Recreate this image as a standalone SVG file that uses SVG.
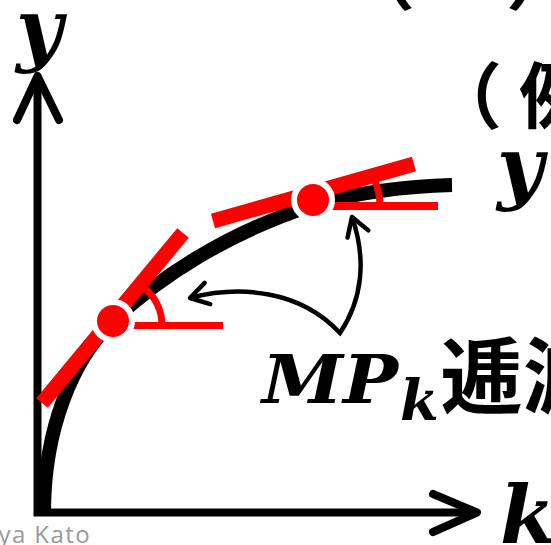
<svg xmlns="http://www.w3.org/2000/svg" width="551" height="545" viewBox="0 0 551 545">
<style>
.ax{fill:none;stroke:#000;stroke-width:8;stroke-linecap:round;stroke-linejoin:round}
.red{fill:none;stroke:#f00}
.math{font-family:"DejaVu Serif","Liberation Serif",serif;font-style:italic;font-weight:bold;fill:#000}
.jp{font-family:"Noto Sans CJK JP","Noto Sans CJK SC",sans-serif;font-weight:bold;fill:#000}
.dot{fill:#f00;stroke:#fff;stroke-width:6}
</style>
<defs>
<marker id="ah" markerUnits="userSpaceOnUse" viewBox="-25 -15 30 30" refX="0" refY="0" markerWidth="30" markerHeight="30" orient="auto-start-reverse" overflow="visible">
<path d="M-18,-11 L0,0 L-18,11" fill="none" stroke="#000" stroke-width="4.5" stroke-linecap="round" stroke-linejoin="round"/>
</marker>
</defs>
<rect width="551" height="545" fill="#fff"/>
<g id="axes">
<path class="ax" d="M37.5,76 V512.5 H477" style="stroke-linejoin:miter;stroke-linecap:butt"/>
<path class="ax" d="M17,120 L37.5,76 L59,120"/>
<path class="ax" d="M433,494 L477,512.5 L433,532"/>
</g>
<g id="curve">
<path d="M44,513 C44,430 72,360 113,321 C160,276 230,232 313,205 C360,192 410,186 452,185" fill="none" stroke="#000" stroke-width="14"/>
</g>
<g id="tangent1">
<line class="red" x1="42" y1="403" x2="183" y2="233" stroke-width="15"/>
<line class="red" x1="113" y1="325.5" x2="223" y2="325.5" stroke-width="7"/>
<path class="red" d="M162,325.5 A49,49 0 0 0 144.5,288" stroke-width="7"/>
<circle class="dot" cx="113" cy="321" r="19"/>
</g>
<g id="tangent2">
<line class="red" x1="213" y1="221" x2="414" y2="164" stroke-width="15"/>
<line class="red" x1="313" y1="206" x2="438" y2="206" stroke-width="8"/>
<path class="red" d="M380,206 A67,67 0 0 0 375,181" stroke-width="7"/>
<circle class="dot" cx="313" cy="200" r="19"/>
</g>
<g id="connectors">
<path d="M190,298 C240,285 300,290 340,333 C362,300 367,260 352,217" fill="none" stroke="#000" stroke-width="4.5" stroke-linejoin="miter" marker-start="url(#ah)" marker-end="url(#ah)"/>
</g>
<g id="labels">
<text class="math" x="16" y="56" font-size="80">y</text>
<text class="math" x="497" y="194" font-size="80">y</text>
<text class="math" x="500" y="543" font-size="80">k</text>
<text class="math" x="262" y="403" font-size="68" textLength="136" lengthAdjust="spacingAndGlyphs">MP</text>
<text class="math" x="400" y="420" font-size="56">k</text>
<text class="jp" x="440" y="407" font-size="83">逓減</text>
<text class="jp" x="430" y="122" font-size="72">（</text>
<text class="jp" x="519" y="122" font-size="72">例</text>
<text class="jp" x="343" y="3" font-size="72">（</text>
<text class="jp" x="506" y="3" font-size="72">）</text>
<text x="91" y="543" font-size="24" letter-spacing="1.4" font-family="Open Sans, sans-serif" fill="#999" text-anchor="end">Tatsuya Kato</text>
</g>
</svg>
